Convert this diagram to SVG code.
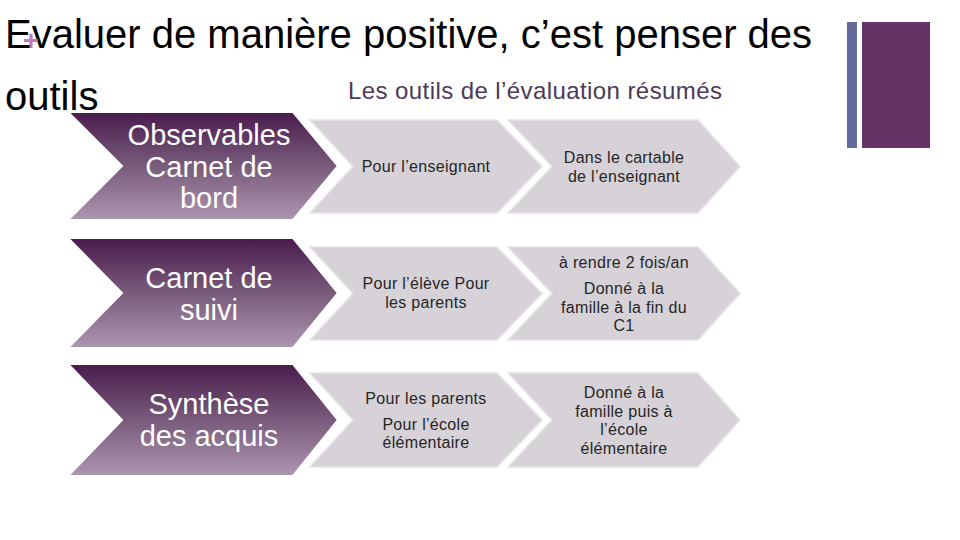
<svg xmlns="http://www.w3.org/2000/svg" width="960" height="540" viewBox="0 0 960 540">
<defs>
<linearGradient id="pg" x1="0" y1="0" x2="0" y2="1">
<stop offset="0" stop-color="#4a1b4d"/>
<stop offset="0.45" stop-color="#745577"/>
<stop offset="1" stop-color="#ad96af"/>
</linearGradient>
<style>
.big{fill:url(#pg);stroke:#ffffff;stroke-width:2}
.grey{fill:#d6d2d8;stroke:#e6e3e7;stroke-width:1.5}
.bt{font-family:"Liberation Sans",Arial,sans-serif;font-size:29px;fill:#ffffff;text-anchor:middle}
.gt{font-family:"Liberation Sans",Arial,sans-serif;font-size:16px;fill:#262626;text-anchor:middle;letter-spacing:0.3px}
.title{font-family:"Liberation Sans",Arial,sans-serif;font-size:40px;fill:#000000}
</style>
</defs>
<rect width="960" height="540" fill="#ffffff"/>

<g id="title">
<text class="title" x="5" y="48">Evaluer de manière positive, c’est penser des</text>
<text class="title" x="5" y="110">outils</text>
<text x="31" y="50" font-family="Liberation Sans, Arial, sans-serif" font-size="28" font-weight="bold" fill="#b766b3" fill-opacity="0.9" text-anchor="middle">+</text>
</g>
<g id="subtitle">
<text x="535" y="99" font-family="Liberation Sans, Arial, sans-serif" font-size="24" fill="#4b3a58" text-anchor="middle" textLength="374" lengthAdjust="spacing">Les outils de l’évaluation résumés</text>
</g>
<g id="deco">
<rect x="847" y="22" width="10" height="126" fill="#646a9a"/>
<rect x="862" y="22" width="68" height="126" fill="#663366"/>
</g>

<!-- Row 1 -->
<g id="r1c1">
<polygon class="grey" points="310,120 497,120 542,166.5 497,213 310,213 353,166.5"/>
<text class="gt" x="426" y="172">Pour l’enseignant</text>
</g>
<g id="r1c2">
<polygon class="grey" points="508,120 698,120 740,166.5 698,213 508,213 552,166.5"/>
<text class="gt" x="624" y="163">Dans le cartable</text>
<text class="gt" x="624" y="182">de l’enseignant</text>
</g>
<g id="r1main">
<polygon class="big" points="68,112 293,112 338,166 293,220 68,220 122,166"/>
<text class="bt" x="209" y="145">Observables</text>
<text class="bt" x="209" y="177">Carnet de</text>
<text class="bt" x="209" y="208">bord</text>
</g>

<!-- Row 2 -->
<g id="r2c1">
<polygon class="grey" points="310,247 497,247 542,293.5 497,340 310,340 353,293.5"/>
<text class="gt" x="426" y="289">Pour l’élève Pour</text>
<text class="gt" x="426" y="308">les parents</text>
</g>
<g id="r2c2">
<polygon class="grey" points="508,247 698,247 740,293.5 698,340 508,340 552,293.5"/>
<text class="gt" x="624" y="268">à rendre 2 fois/an</text>
<text class="gt" x="624" y="294">Donné à la</text>
<text class="gt" x="624" y="313">famille à la fin du</text>
<text class="gt" x="624" y="331">C1</text>
</g>
<g id="r2main">
<polygon class="big" points="68,238 293,238 338,293 293,348 68,348 122,293"/>
<text class="bt" x="209" y="288">Carnet de</text>
<text class="bt" x="209" y="320">suivi</text>
</g>

<!-- Row 3 -->
<g id="r3c1">
<polygon class="grey" points="310,373 497,373 542,420 497,467 310,467 353,420"/>
<text class="gt" x="426" y="404">Pour les parents</text>
<text class="gt" x="426" y="430">Pour l’école</text>
<text class="gt" x="426" y="448">élémentaire</text>
</g>
<g id="r3c2">
<polygon class="grey" points="508,373 698,373 740,420 698,467 508,467 552,420"/>
<text class="gt" x="624" y="398">Donné à la</text>
<text class="gt" x="624" y="417">famille puis à</text>
<text class="gt" x="624" y="435">l’école</text>
<text class="gt" x="624" y="454">élémentaire</text>
</g>
<g id="r3main">
<polygon class="big" points="68,364 293,364 338,420 293,476 68,476 122,420"/>
<text class="bt" x="209" y="414">Synthèse</text>
<text class="bt" x="209" y="446">des acquis</text>
</g>
</svg>
